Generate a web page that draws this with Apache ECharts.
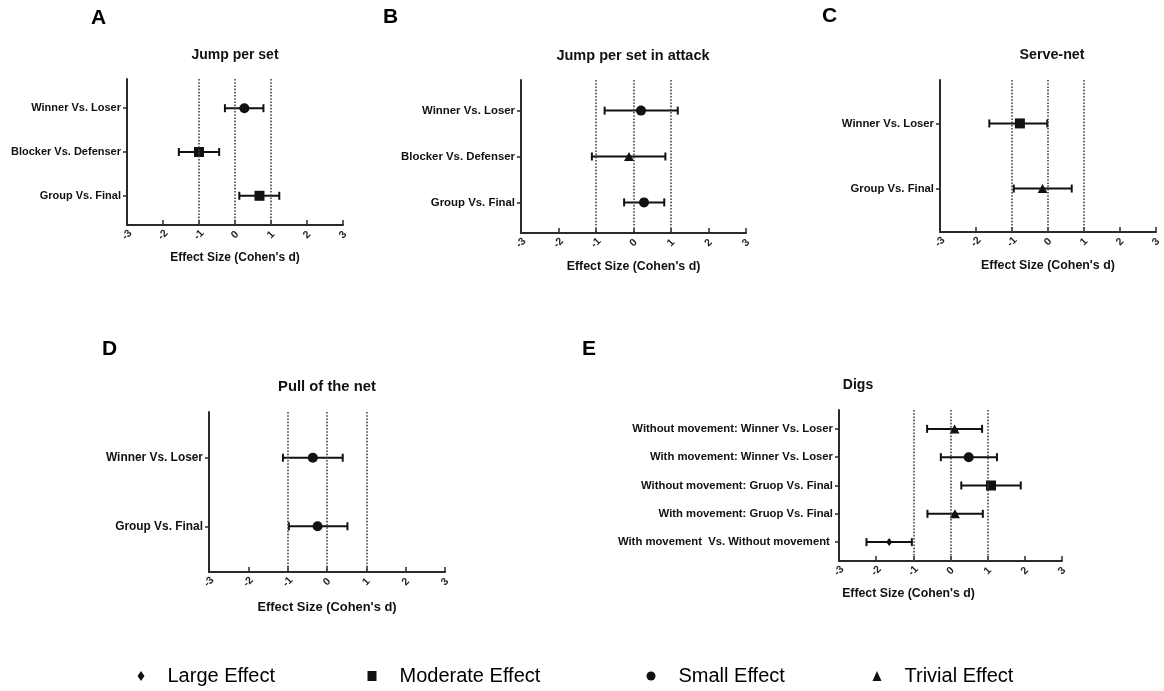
<!DOCTYPE html>
<html>
<head>
<meta charset="utf-8">
<script src="https://cdn.jsdelivr.net/npm/echarts@6/dist/echarts.min.js"></script>
<style>
html,body{margin:0;padding:0;background:#fff;}
#main{width:1164px;height:691px;}
</style>
</head>
<body>
<div id="main"></div>
<script>
// ---------- DATA ----------
const panelLetters = ['A', 'B', 'C', 'D', 'E'];
const panelTitles = ['Jump per set', 'Jump per set in attack', 'Serve-net', 'Pull of the net', 'Digs'];
const axisTitle = "Effect Size (Cohen's d)";
const xTicks = [-3, -2, -1, 0, 1, 2, 3];
const refLines = [-1, 0, 1];
const effectTypes = ['Large Effect', 'Moderate Effect', 'Small Effect', 'Trivial Effect'];

const catsA = ['Winner Vs. Loser', 'Blocker Vs. Defenser', 'Group Vs. Final'];
const dA = [0.26, -1.00, 0.68];
const lowA = [-0.28, -1.56, 0.12];
const highA = [0.79, -0.44, 1.23];
const effA = ['Small Effect', 'Moderate Effect', 'Moderate Effect'];

const catsB = ['Winner Vs. Loser', 'Blocker Vs. Defenser', 'Group Vs. Final'];
const dB = [0.20, -0.12, 0.28];
const lowB = [-0.77, -1.11, -0.25];
const highB = [1.18, 0.85, 0.82];
const effB = ['Small Effect', 'Trivial Effect', 'Small Effect'];

const catsC = ['Winner Vs. Loser', 'Group Vs. Final'];
const dC = [-0.78, -0.15];
const lowC = [-1.63, -0.95];
const highC = [-0.02, 0.66];
const effC = ['Moderate Effect', 'Trivial Effect'];

const catsD = ['Winner Vs. Loser', 'Group Vs. Final'];
const dD = [-0.36, -0.24];
const lowD = [-1.12, -0.97];
const highD = [0.40, 0.52];
const effD = ['Small Effect', 'Small Effect'];

const catsE = ['Without movement: Winner Vs. Loser', 'With movement: Winner Vs. Loser',
  'Without movement: Gruop Vs. Final', 'With movement: Gruop Vs. Final',
  'With movement  Vs. Without movement '];
const dE = [0.11, 0.49, 1.09, 0.12, -1.65];
const lowE = [-0.63, -0.26, 0.29, -0.62, -2.26];
const highE = [0.85, 1.25, 1.89, 0.87, -1.04];
const effE = ['Trivial Effect', 'Small Effect', 'Moderate Effect', 'Trivial Effect', 'Large Effect'];

// ---------- LAYOUT / STYLE ----------
const FONT = 'Liberation Sans';
const INK = '#111';
const panels = [
  {cats: catsA, d: dA, lo: lowA, hi: highA, eff: effA},
  {cats: catsB, d: dB, lo: lowB, hi: highB, eff: effB},
  {cats: catsC, d: dC, lo: lowC, hi: highC, eff: effC},
  {cats: catsD, d: dD, lo: lowD, hi: highD, eff: effD},
  {cats: catsE, d: dE, lo: lowE, hi: highE, eff: effE}
];
const layout = [
  {grid: {left: 127, top: 79, width: 216, height: 146}, letter: [91, 18], title: [235, 55], catFont: 11, titleFont: 14, nameFont: 12, nameGap: 27, namePad: 0},
  {grid: {left: 521, top: 80, width: 225, height: 153}, letter: [383, 17], title: [633, 56], catFont: 11.4, titleFont: 14.5, nameFont: 12.4, nameGap: 28, namePad: 0},
  {grid: {left: 940, top: 80, width: 223, height: 152}, letter: [822, 16], title: [1052, 55], catFont: 11.3, titleFont: 14.3, nameFont: 12.4, nameGap: 28, namePad: 0},
  {grid: {left: 209, top: 412, width: 236, height: 160}, letter: [102, 349], title: [327, 387], catFont: 11.9, titleFont: 14.8, nameFont: 12.9, nameGap: 29, namePad: 0},
  {grid: {left: 839, top: 410, width: 223, height: 151}, letter: [582, 349], title: [858, 385], catFont: 11.3, titleFont: 14, nameFont: 12.3, nameGap: 27, namePad: 84}
];
const symbolOf = {'Large Effect': 'diamond', 'Moderate Effect': 'rect', 'Small Effect': 'circle', 'Trivial Effect': 'triangle'};
const sizeOf = {'Large Effect': [6, 8], 'Moderate Effect': 10, 'Small Effect': 10, 'Trivial Effect': [10, 9]};
const legendLeft = [137.5, 367.5, 646.5, 872.5];

function renderBar(params, api) {
  const y = api.value(2);
  const p1 = api.coord([api.value(0), y]);
  const p2 = api.coord([api.value(1), y]);
  const h = 4;
  const st = {stroke: INK, lineWidth: 2};
  return {type: 'group', children: [
    {type: 'line', shape: {x1: p1[0], y1: p1[1], x2: p2[0], y2: p2[1]}, style: st},
    {type: 'line', shape: {x1: p1[0], y1: p1[1] - h, x2: p1[0], y2: p1[1] + h}, style: st},
    {type: 'line', shape: {x1: p2[0], y1: p2[1] - h, x2: p2[0], y2: p2[1] + h}, style: st}
  ]};
}

const grids = [], xAxes = [], yAxes = [], series = [], titles = [];
panels.forEach((p, i) => {
  const L = layout[i];
  grids.push(Object.assign({containLabel: false}, L.grid));
  const idx = p.cats.map((c, k) => k);
  xAxes.push({
    gridIndex: i, type: 'value', min: xTicks[0], max: xTicks[xTicks.length - 1], interval: 1,
    name: axisTitle, nameLocation: 'middle', nameGap: L.nameGap,
    nameTextStyle: {fontFamily: FONT, fontWeight: 'bold', fontSize: L.nameFont, color: INK, padding: [0, L.namePad, 0, 0]},
    axisLine: {onZero: false, lineStyle: {color: '#2a2a2a', width: 2}},
    axisTick: {inside: true, length: 5, lineStyle: {color: '#2a2a2a', width: 1.5}},
    axisLabel: {rotate: 45, margin: 10, align: 'center', verticalAlign: 'middle',
      fontFamily: FONT, fontWeight: 'bold', fontSize: 10.5, color: '#222',
      formatter: v => String(v)},
    splitLine: {show: false}
  });
  yAxes.push({
    gridIndex: i, type: 'value', inverse: true, min: -0.667, max: p.cats.length - 1 + 0.667,
    axisLine: {show: true, onZero: false, lineStyle: {color: '#2a2a2a', width: 2}},
    axisTick: {show: true, inside: false, length: 4, customValues: idx, lineStyle: {color: '#2a2a2a', width: 1.5}},
    axisLabel: {show: true, margin: 6, customValues: idx, fontFamily: FONT, fontWeight: 'bold', fontSize: L.catFont, color: INK,
      formatter: v => p.cats[Math.round(v)] || ''},
    splitLine: {show: false}
  });
  series.push({
    type: 'custom', name: panelTitles[i] + ' CI', xAxisIndex: i, yAxisIndex: i,
    renderItem: renderBar, encode: {x: [0, 1], y: 2},
    data: idx.map(k => [p.lo[k], p.hi[k], k]),
    silent: true, z: 2,
    markLine: {
      silent: true, symbol: 'none', label: {show: false},
      lineStyle: {type: 'dotted', color: '#444', width: 1.6},
      data: refLines.map(v => ({xAxis: v}))
    }
  });
  effectTypes.forEach(et => {
    const pts = idx.filter(k => p.eff[k] === et).map(k => [p.d[k], k]);
    if (!pts.length) return;
    series.push({
      type: 'scatter', name: et, xAxisIndex: i, yAxisIndex: i, data: pts, z: 3,
      symbol: symbolOf[et], symbolSize: sizeOf[et],
      itemStyle: {color: INK, opacity: 1}
    });
  });
  titles.push({text: panelLetters[i], left: L.letter[0], top: L.letter[1], padding: 0,
    textAlign: 'left', textVerticalAlign: 'middle',
    textStyle: {fontFamily: FONT, fontWeight: 'bold', fontSize: 21, color: '#000'}});
  titles.push({text: panelTitles[i], left: L.title[0], top: L.title[1], padding: 0,
    textAlign: 'center', textVerticalAlign: 'middle',
    textStyle: {fontFamily: FONT, fontWeight: 'bold', fontSize: L.titleFont, color: INK}});
});

const legends = effectTypes.map((name, i) => ({
  data: [{name: name, icon: symbolOf[name]}],
  left: legendLeft[i], top: 666, padding: 0, selectedMode: false,
  itemWidth: name === 'Large Effect' ? 7 : 9, itemHeight: 10,
  itemStyle: {color: INK},
  textStyle: {fontFamily: FONT, fontSize: 20, color: '#000', padding: [0, 0, 0, 18]}
}));

const chart = echarts.init(document.getElementById('main'), null, {renderer: 'canvas'});
chart.setOption({
  backgroundColor: '#fff',
  animation: false,
  title: titles,
  legend: legends,
  grid: grids,
  xAxis: xAxes,
  yAxis: yAxes,
  series: series
});
</script>
</body>
</html>
